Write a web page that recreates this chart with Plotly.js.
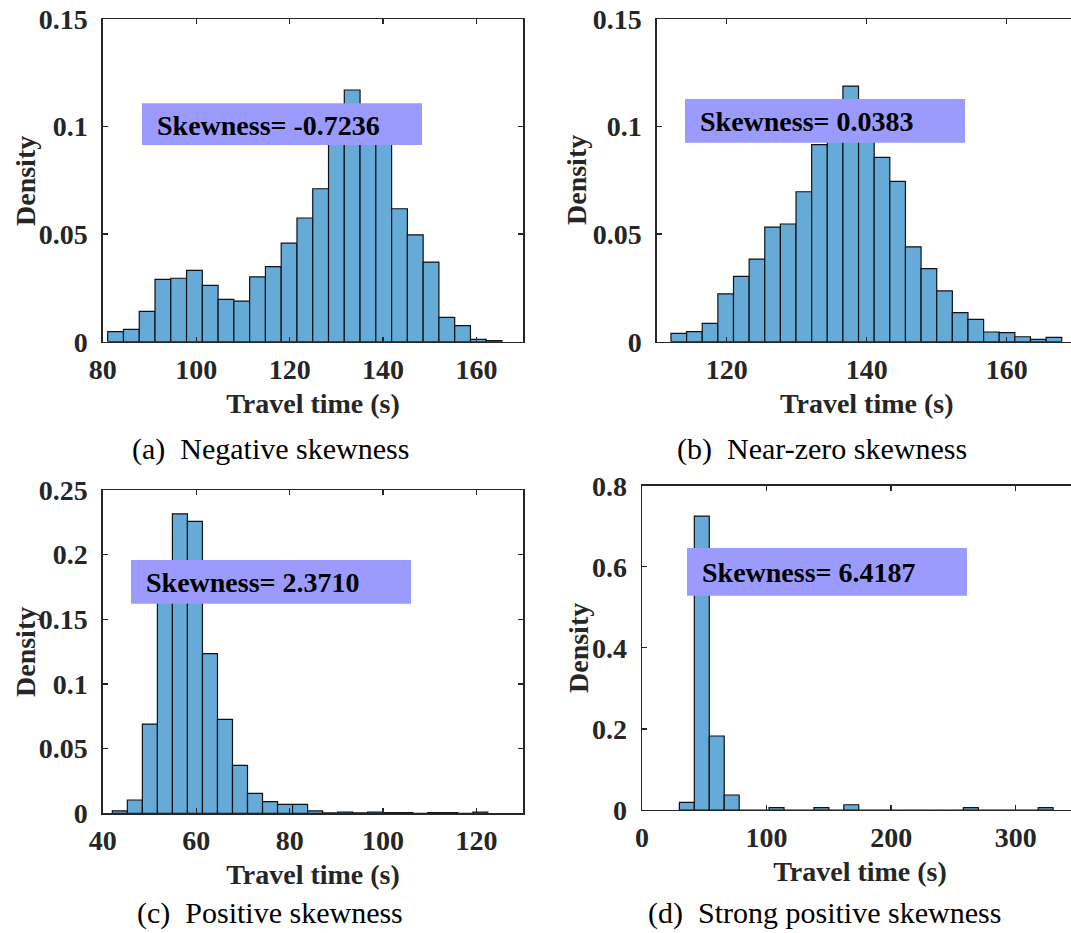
<!DOCTYPE html>
<html>
<head>
<meta charset="utf-8">
<script src="https://cdn.plot.ly/plotly-3.0.1.min.js"></script>
<style>
html,body{margin:0;padding:0;background:#fff;overflow:hidden;}
#chart{width:1078px;height:933px;}
</style>
</head>
<body>
<div id="chart"></div>
<script>
// ---- Data ----
// Panel (a): Negative skewness
const binStartA = 81.07, binWidthA = 3.375;
const densityA = [0.0047, 0.0057, 0.0141, 0.0290, 0.0295, 0.0332, 0.0262, 0.0197, 0.0189, 0.0301,
                  0.0349, 0.0458, 0.0575, 0.0711, 0.0950, 0.1170, 0.1030, 0.0970, 0.0618, 0.0497,
                  0.0370, 0.0113, 0.0075, 0.0011, 0.0005];
const skewA = "Skewness= -0.7236";
const captionA = "(a)\u2002Negative skewness";

// Panel (b): Near-zero skewness
const binStartB = 112.04, binWidthB = 2.233;
const densityB = [0.0039, 0.0047, 0.0085, 0.0222, 0.0304, 0.0384, 0.0533, 0.0547, 0.0697, 0.0916,
                  0.1000, 0.1188, 0.1050, 0.0857, 0.0745, 0.0441, 0.0340, 0.0236, 0.0135, 0.0104,
                  0.0045, 0.0042, 0.0023, 0.0011, 0.0020];
const skewB = "Skewness= 0.0383";
const captionB = "(b)\u2002Near-zero skewness";

// Panel (c): Positive skewness
const binStartC = 42.06, binWidthC = 3.214;
const densityC = [0.0018, 0.0103, 0.0690, 0.1800, 0.2316, 0.2257, 0.1235, 0.0726, 0.0371, 0.0154,
                  0.0090, 0.0069, 0.0069, 0.0018, 0.0003, 0.0010, 0.0003, 0.0010, 0.0006, 0.0006,
                  0.0000, 0.0006, 0.0006, 0.0000, 0.0010];
const skewC = "Skewness= 2.3710";
const captionC = "(c)\u2002Positive skewness";

// Panel (d): Strong positive skewness
const binStartD = 30, binWidthD = 12;
const densityD = [0.0189, 0.7250, 0.1825, 0.0370, 0, 0, 0.0058, 0, 0, 0.0058,
                  0, 0.0130, 0, 0, 0, 0, 0, 0, 0, 0.0058,
                  0, 0, 0, 0, 0.0058];
const skewD = "Skewness= 6.4187";
const captionD = "(d)\u2002Strong positive skewness";

const xTitle = "Travel time (s)";
const yTitle = "Density";
const xTicksA = [80, 100, 120, 140, 160];
const xTicksB = [120, 140, 160];
const xTicksC = [40, 60, 80, 100, 120];
const xTicksD = [0, 100, 200, 300];

// ---- Build ----
const W = 1078, H = 933;
const fx = p => p / W;
const fy = p => 1 - p / H;

const barFill = "rgb(102,170,215)";
const axisCol = "#262626";
const FONT = "Liberation Serif, Times New Roman, serif";

function barTrace(start, width, vals, xa, ya) {
  const centers = vals.map((v, i) => start + width * (i + 0.5));
  return {
    type: "bar", x: centers, y: vals, width: vals.map(() => width),
    xaxis: xa, yaxis: ya,
    marker: {color: barFill, line: {color: "#111", width: 1.2}},
    hoverinfo: "x+y", showlegend: false
  };
}

const data = [
  barTrace(binStartA, binWidthA, densityA, "x", "y"),
  barTrace(binStartB, binWidthB, densityB, "x2", "y2"),
  barTrace(binStartC, binWidthC, densityC, "x3", "y3"),
  barTrace(binStartD, binWidthD, densityD, "x4", "y4")
];

const tickFont = {family: FONT, size: 28, color: axisCol, weight: "bold"};
const titleFont = {family: FONT, size: 28, color: axisCol, weight: "bold"};

function xAx(dom, range, ticks, anchor) {
  return {
    domain: dom, range: range, anchor: anchor,
    tickmode: "array", tickvals: ticks,
    showline: true, linecolor: axisCol, linewidth: 1.3, mirror: "ticks",
    ticks: "inside", ticklen: 5, tickwidth: 1.3, tickcolor: axisCol,
    showgrid: false, zeroline: false, fixedrange: true,
    tickfont: tickFont, ticklabelstandoff: 2,
    title: {text: xTitle, font: titleFont, standoff: 9}
  };
}
function yAx(dom, range, dtick, anchor) {
  return {
    domain: dom, range: range, anchor: anchor,
    tickmode: "linear", tick0: 0, dtick: dtick,
    showline: true, linecolor: axisCol, linewidth: 1.3, mirror: "ticks",
    ticks: "inside", ticklen: 5, tickwidth: 1.3, tickcolor: axisCol,
    showgrid: false, zeroline: false, fixedrange: true,
    tickfont: tickFont, ticklabelstandoff: 8
  };
}

const domXA = [fx(102.7), fx(523.3)];
const domXB = [fx(656.7), fx(1076.7)];
const domXC = [fx(102.7), fx(523.3)];
const domXD = [fx(642), fx(1078)];
const domYA = [fy(341.7), fy(19)];
const domYC = [fy(813.3), fy(490)];
const domYD = [fy(810), fy(485.7)];

function box(x0, x1, y0, y1) {
  return {type: "rect", xref: "paper", yref: "paper",
          x0: fx(x0), x1: fx(x1), y0: fy(y1), y1: fy(y0),
          fillcolor: "#9b9bfd", line: {width: 0}, layer: "above"};
}
function skewText(t, x, y) {
  return {text: t, xref: "paper", yref: "paper", x: fx(x), y: fy(y),
          xanchor: "left", yanchor: "middle", showarrow: false,
          font: {family: FONT, size: 28, color: "#000", weight: "bold"}};
}
function caption(t, x, y) {
  return {text: t, xref: "paper", yref: "paper", x: fx(x), y: fy(y),
          xanchor: "left", yanchor: "middle", showarrow: false,
          font: {family: FONT, size: 30, color: "#000"}};
}
function yLabel(x, y) {
  return {text: yTitle, xref: "paper", yref: "paper", x: fx(x), y: fy(y),
          xanchor: "center", yanchor: "middle", showarrow: false, textangle: -90,
          font: titleFont};
}

const layout = {
  width: W, height: H,
  margin: {l: 0, r: 0, t: 0, b: 0},
  paper_bgcolor: "#fff", plot_bgcolor: "#fff",
  barmode: "overlay",
  xaxis: xAx(domXA, [80, 170], xTicksA, "y"),
  yaxis: yAx(domYA, [0, 0.15], 0.05, "x"),
  xaxis2: xAx(domXB, [110, 170], xTicksB, "y2"),
  yaxis2: yAx(domYA, [0, 0.15], 0.05, "x2"),
  xaxis3: xAx(domXC, [40, 130], xTicksC, "y3"),
  yaxis3: yAx(domYC, [0, 0.25], 0.05, "x3"),
  xaxis4: xAx(domXD, [0, 350], xTicksD, "y4"),
  yaxis4: yAx(domYD, [0, 0.8], 0.2, "x4"),
  shapes: [
    box(142, 422, 103.3, 145),
    box(685, 965, 99, 142.7),
    box(131, 411, 560, 603.7),
    box(687, 967, 548, 595.7)
  ],
  annotations: [
    skewText(skewA, 155, 126),
    skewText(skewB, 698, 122),
    skewText(skewC, 144, 582),
    skewText(skewD, 700, 572),
    caption(captionA, 130, 449),
    caption(captionB, 675, 449),
    caption(captionC, 135, 913),
    caption(captionD, 646, 913),
    yLabel(25, 181),
    yLabel(577, 180),
    yLabel(25, 652),
    yLabel(578, 648)
  ]
};

Plotly.newPlot("chart", data, layout, {staticPlot: true, displayModeBar: false});
</script>
</body>
</html>
